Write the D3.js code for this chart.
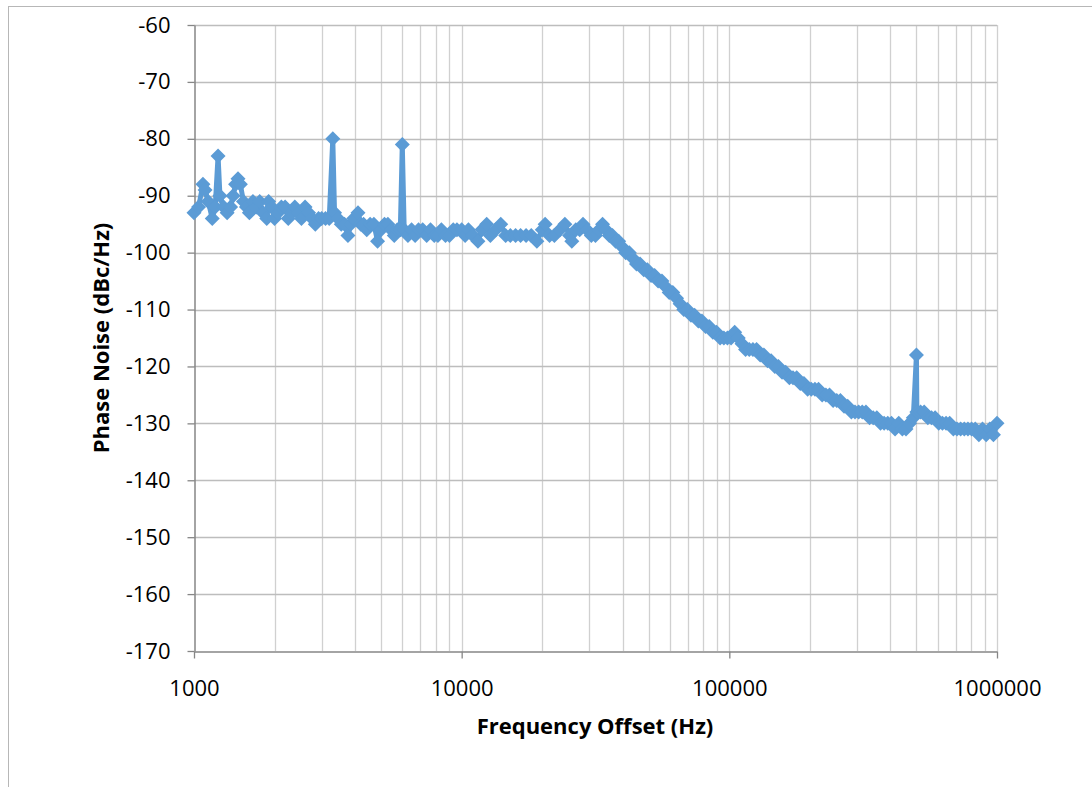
<!DOCTYPE html>
<html>
<head>
<meta charset="utf-8">
<script src="https://cdn.jsdelivr.net/npm/d3@7"></script>
<style>
  body { margin: 0; background: #fff; }
  svg { display: block; }
</style>
</head>
<body>
<div id="chart"></div>
<script>
const freqs = [
  1000, 1040, 1080, 1100, 1130, 1170, 1200, 1230, 1250, 1290,
  1330, 1370, 1400, 1430, 1460, 1490, 1530, 1570, 1610, 1660,
  1710, 1760, 1810, 1870, 1900, 1950, 2000, 2060, 2120, 2190,
  2250, 2320, 2380, 2450, 2520, 2600, 2680, 2760, 2840, 2920,
  3000, 3100, 3200, 3300, 3350, 3450, 3550, 3650, 3760, 3850,
  3950, 4100, 4200, 4300, 4420, 4550, 4700, 4850, 5000, 5150,
  5300, 5450, 5600, 5750, 5900, 6000, 6100, 6300, 6500, 6700,
  6900, 7150, 7400, 7650, 7900, 8150, 8400, 8700, 9000, 9300,
  9600, 10000, 10300, 10600, 11000, 11500, 11900, 12400, 12800, 13400,
  14000, 14600, 15200, 15900, 16600, 17400, 18200, 19100, 20000, 20500,
  21300, 22200, 23300, 24300, 25300, 25800, 26700, 27600, 28400, 29400,
  30500, 31600, 32600, 33600, 34600, 35600, 36600, 37600, 38600, 39800,
  41000, 42300, 43600, 45000, 46400, 47900, 49400, 51000, 52600, 54200,
  56000, 57800, 59600, 61500, 63500, 65500, 67600, 69700, 71900, 74200,
  76600, 79000, 81500, 84100, 86800, 89600, 92400, 95400, 98400, 101500,
  104700, 108000, 111500, 115000, 118700, 122500, 126400, 130400, 134600, 138900,
  143300, 147900, 152600, 157400, 162400, 167600, 172900, 178500, 184100, 190000,
  196100, 202300, 208800, 215400, 222300, 229400, 236700, 244200, 252000, 260000,
  268300, 276800, 285700, 294800, 304100, 313800, 323800, 334100, 344800, 355700,
  367100, 378800, 390800, 403300, 416100, 429400, 443100, 457200, 471700, 486700,
  500000, 502000, 518000, 534600, 551600, 569200, 587300, 606000, 625300, 645200,
  665800, 687000, 708900, 731400, 754800, 778800, 803600, 829200, 855600, 882900,
  911000, 940000, 970000, 1000000
];
const noise = [
  -93, -92, -88, -89, -91, -94, -92, -83, -90, -92,
  -93, -92, -90, -88, -87, -88, -91, -92, -93, -91,
  -92, -91, -93, -94, -91, -92, -94, -93, -92, -92,
  -94, -93, -92, -93, -94, -92, -93, -94, -95, -94,
  -94, -94, -94, -80, -93, -94, -95, -95, -97, -95,
  -94, -93, -95, -95, -96, -95, -95, -98, -96, -95,
  -95, -96, -97, -96, -96, -81, -96, -97, -96, -97,
  -96, -96, -97, -96, -97, -97, -96, -97, -97, -96,
  -96, -96, -97, -96, -97, -98, -96, -95, -97, -96,
  -95, -97, -97, -97, -97, -97, -97, -98, -96, -95,
  -97, -97, -96, -95, -97, -98, -96, -96, -95, -96,
  -97, -97, -96, -95, -96, -97, -97, -98, -98, -99,
  -100, -100, -101, -102, -102, -103, -103, -104, -104, -105,
  -105, -106, -107, -107, -108, -109, -110, -110, -111, -111,
  -112, -112, -113, -113, -114, -114, -115, -115, -115, -115,
  -114, -115, -116, -117, -117, -117, -117, -118, -118, -119,
  -119, -120, -120, -121, -121, -122, -122, -122, -123, -123,
  -124, -124, -124, -124, -125, -125, -125, -126, -126, -126,
  -127, -127, -128, -128, -128, -128, -128, -129, -129, -129,
  -130, -130, -130, -130, -131, -130, -131, -131, -130, -129,
  -118, -128, -128, -128, -129, -129, -129, -130, -130, -130,
  -130, -131, -131, -131, -131, -131, -131, -131, -132, -131,
  -132, -131, -132, -130
];

const xTicks = [1000, 10000, 100000, 1000000];
const yTicks = [-60, -70, -80, -90, -100, -110, -120, -130, -140, -150, -160, -170];

const data = freqs.map((f, i) => ({f: f, v: noise[i]}));

const width = 1092;
const height = 787;
const font = "'Open Sans', 'Liberation Sans', sans-serif";

const x = d3.scaleLog()
    .domain([1000, 1000000])
    .range([194, 997]);
const y = d3.scaleLinear()
    .domain([-170, -60])
    .range([651, 25]);

const svg = d3.select("#chart").append("svg")
    .attr("width", width)
    .attr("height", height);

// chart frame (runs off the right/bottom of the picture)
svg.append("rect")
    .attr("x", 8.5).attr("y", 6.5)
    .attr("width", 1200).attr("height", 900)
    .attr("fill", "#fff")
    .attr("stroke", "#b7b7b7");

// vertical gridlines, 1..9 per decade
svg.append("g")
  .selectAll("line")
  .data(x.ticks().filter(d => d > 1000))
  .join("line")
    .attr("x1", d => Math.round(x(d)) + 0.5)
    .attr("x2", d => Math.round(x(d)) + 0.5)
    .attr("y1", y(-60))
    .attr("y2", y(-170))
    .attr("stroke", "#d0d0d0")
    .attr("stroke-width", 1.3);

// horizontal gridlines
svg.append("g")
  .selectAll("line")
  .data(yTicks.filter(d => d > -170))
  .join("line")
    .attr("x1", x(1000))
    .attr("x2", x(1000000))
    .attr("y1", d => Math.round(y(d)) + 0.5)
    .attr("y2", d => Math.round(y(d)) + 0.5)
    .attr("stroke", "#bdbdbd")
    .attr("stroke-width", 1.3);

// plain hyphen minus like the original, not d3's unicode minus
const yAxis = svg.append("g")
    .attr("transform", `translate(${Math.round(x(1000)) + 0.5},0)`)
    .call(d3.axisLeft(y).tickValues(yTicks).tickFormat(d => String(d))
        .tickSize(7).tickSizeOuter(0).tickPadding(17));

const xAxis = svg.append("g")
    .attr("transform", `translate(0,${Math.round(y(-170)) + 0.5})`)
    .call(d3.axisBottom(x).tickValues(xTicks).tickFormat(d => String(d))
        .tickSize(7).tickSizeOuter(0).tickPadding(22));

[yAxis, xAxis].forEach(a => {
    a.select(".domain").attr("stroke", "#868686").attr("stroke-width", 1.5);
    a.selectAll(".tick line").attr("stroke", "#868686").attr("stroke-width", 1.3);
    a.selectAll("text")
        .attr("fill", "#000")
        .style("font-family", font)
        .style("font-size", "22px");
});

// series line + diamond markers
const line = d3.line()
    .x(d => x(d.f))
    .y(d => y(d.v));

svg.append("path")
    .datum(data)
    .attr("fill", "none")
    .attr("stroke", "#5b9bd5")
    .attr("stroke-width", 5)
    .attr("stroke-linejoin", "round")
    .attr("d", line);

svg.append("g")
  .selectAll("path")
  .data(data)
  .join("path")
    .attr("transform", d => `translate(${x(d.f)},${y(d.v)})`)
    .attr("d", "M0,-7.5L7.5,0L0,7.5L-7.5,0Z")
    .attr("fill", "#5b9bd5");

// axis titles
svg.append("text")
    .attr("transform", "translate(101,338) rotate(-90)")
    .attr("text-anchor", "middle")
    .attr("dy", "0.35em")
    .style("font-family", font)
    .style("font-size", "22px")
    .style("font-weight", "bold")
    .text("Phase Noise (dBc/Hz)");

svg.append("text")
    .attr("x", 595)
    .attr("y", 734)
    .attr("text-anchor", "middle")
    .style("font-family", font)
    .style("font-size", "22px")
    .style("font-weight", "bold")
    .text("Frequency Offset (Hz)");
</script>
</body>
</html>
